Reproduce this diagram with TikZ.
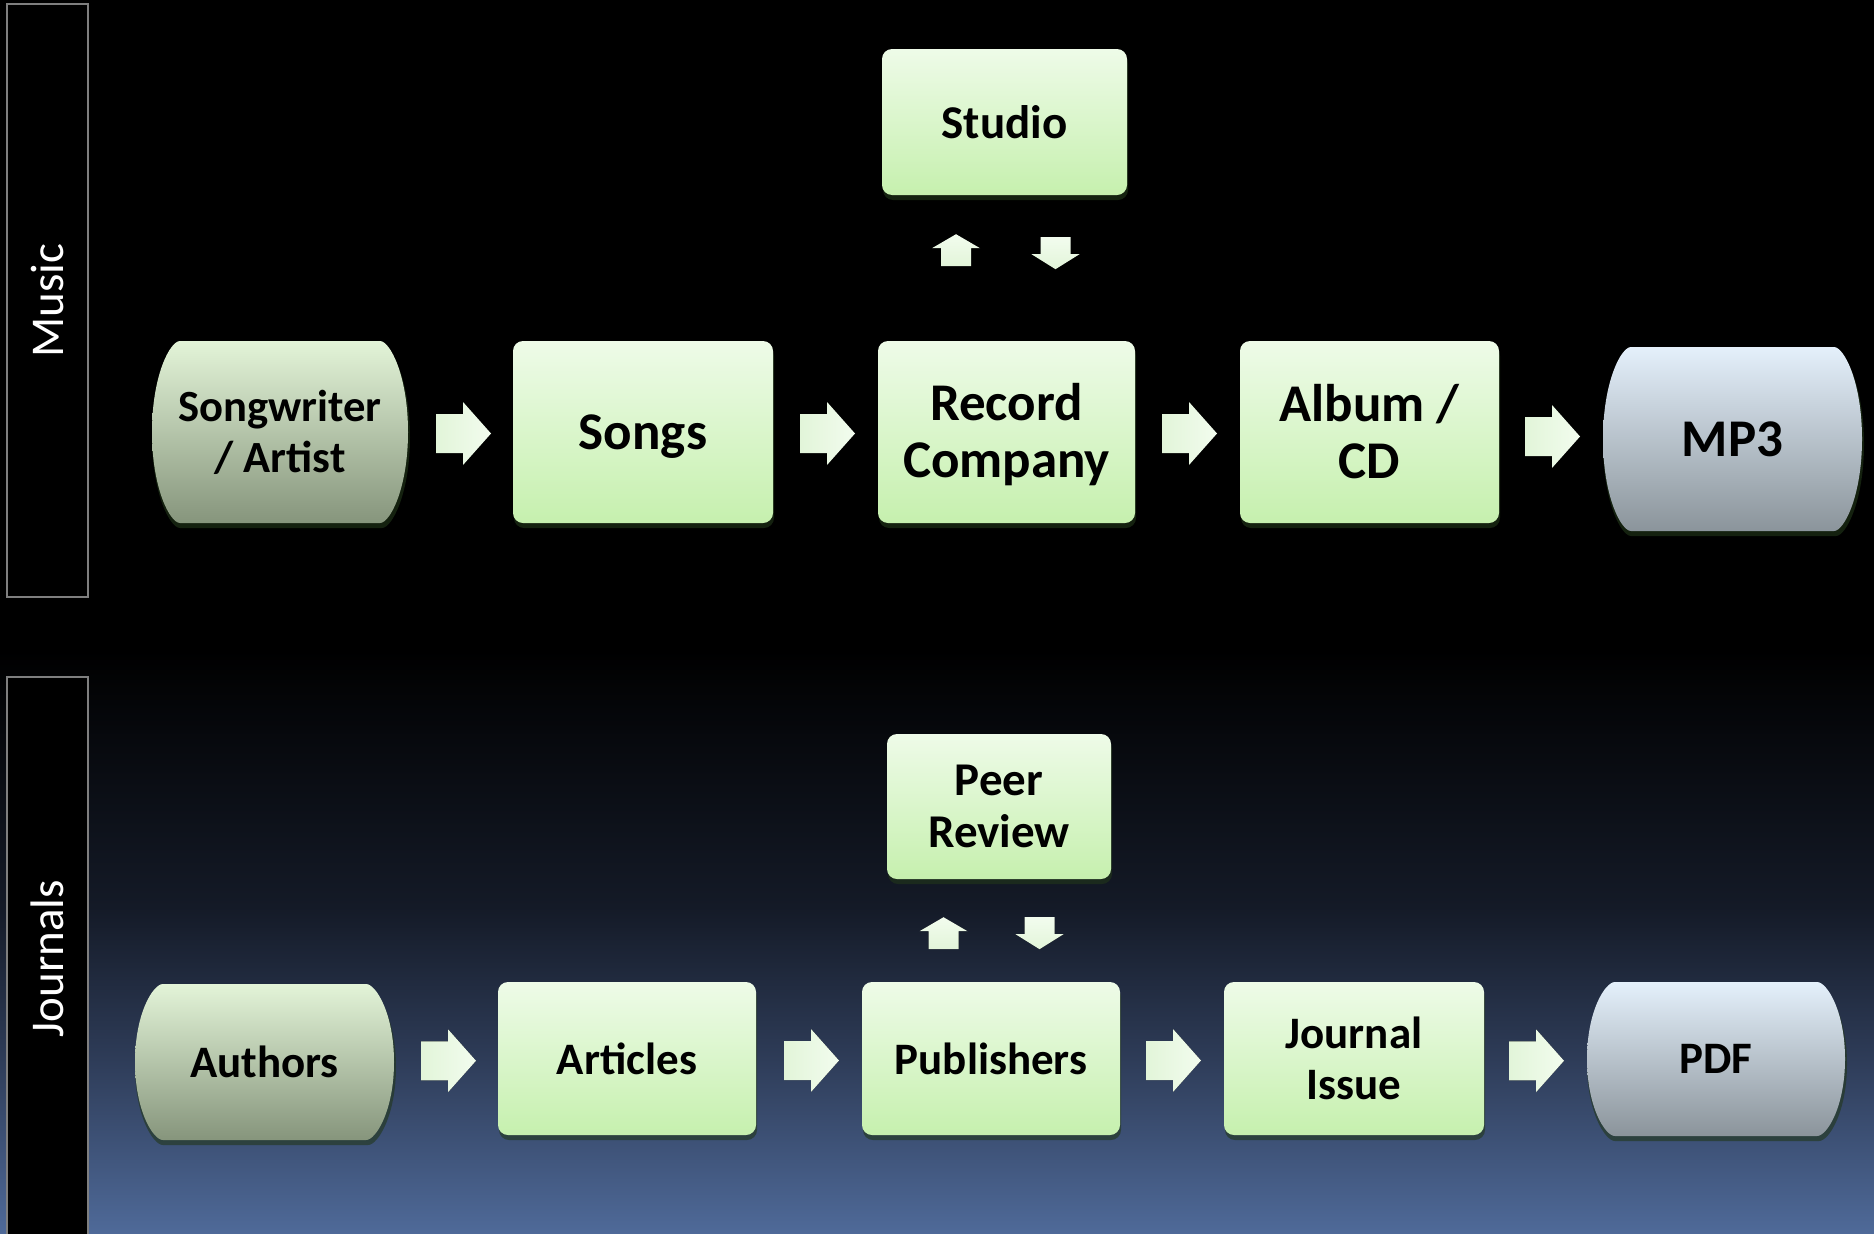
\documentclass[tikz,border=0pt]{standalone}
\usepackage{fontspec}
\setmainfont{Carlito}
\usetikzlibrary{calc}
\definecolor{boxT}{HTML}{EEFBE8}
\definecolor{boxB}{HTML}{C6F0AE}
\definecolor{termT}{HTML}{E3F4D8}
\definecolor{termB}{HTML}{86957C}
\definecolor{blueT}{HTML}{E4F0FB}
\definecolor{blueB}{HTML}{8B949B}
\definecolor{arrL}{HTML}{E2F5D9}
\definecolor{arrR}{HTML}{F2FCEE}
\definecolor{glowc}{HTML}{22371A}
\definecolor{bgA}{HTML}{4F6A99}
\definecolor{bgB}{HTML}{2E3C58}
\definecolor{bgC}{HTML}{141A27}
\definecolor{labline}{HTML}{7F7F7F}
\pgfdeclareverticalshading{bgshade}{100bp}{color(0bp)=(bgA); color(25bp)=(bgA); color(40bp)=(bgB); color(53bp)=(bgC); color(75bp)=(black); color(100bp)=(black)}
\newcommand\termshape[5]{%
  \pgfmathsetmacro\tmL{#2-#4/2}\pgfmathsetmacro\tmR{#2+#4/2}%
  \pgfmathsetmacro\tmT{#3-#5/2}\pgfmathsetmacro\tmB{#3+#5/2}%
  \pgfmathsetmacro\tmC{0.19*#5}%
  \path[#1] (\tmL+28,\tmT) -- (\tmR-28,\tmT)
    .. controls (\tmR-18,\tmT) and (\tmR,\tmT+\tmC) .. (\tmR,#3)
    .. controls (\tmR,\tmB-\tmC) and (\tmR-18,\tmB) .. (\tmR-28,\tmB)
    -- (\tmL+28,\tmB)
    .. controls (\tmL+18,\tmB) and (\tmL,\tmB-\tmC) .. (\tmL,#3)
    .. controls (\tmL,\tmT+\tmC) and (\tmL+18,\tmT) .. cycle;}
\newcommand\rarr[1]{\fill[arrfill] (#1) ++(-27.5,-19.5) -- ++(27,0) -- ++(0,-12) -- ++(28,31.5) -- ++(-28,31.5) -- ++(0,-12) -- ++(-27,0) -- cycle;}
\newcommand\uarr[1]{\fill[arrfillv] (#1) ++(0,-16) -- ++(24,14) -- ++(-9,0) -- ++(0,18) -- ++(-30,0) -- ++(0,-18) -- ++(-9,0) -- cycle;}
\newcommand\darr[1]{\fill[arrfillv] (#1) ++(0,16) -- ++(24,-15) -- ++(-9,0) -- ++(0,-17) -- ++(-30,0) -- ++(0,17) -- ++(-9,0) -- cycle;}
\newcommand\lowered[2]{\raisebox{-#1}[\height][\depth]{#2}}
\begin{document}
\begin{tikzpicture}[x=1pt,y=-1pt,
  box/.style={rectangle, rounded corners=10pt, top color=boxT, bottom color=boxB,
    align=center, text=black, inner sep=0pt,
    preaction={fill=glowc, opacity=0.6, transform canvas={shift={(1pt,-5pt)}}}},
  termtext/.style={rectangle, align=center, text=black, inner sep=0pt},
  big/.style={font=\bfseries\fontsize{53}{57}\selectfont},
  mid/.style={font=\bfseries\fontsize{45}{51}\selectfont},
  top/.style={font=\bfseries\fontsize{47}{52.5}\selectfont},
  termfill/.style={top color=termT, bottom color=termB},
  bluefill/.style={top color=blueT, bottom color=blueB},
  glowfill/.style={fill=glowc, opacity=0.6},
  arrfill/.style={left color=arrL, right color=arrR},
  arrfillv/.style={top color=arrR, bottom color=arrL},
  labbox/.style={rectangle, fill=black, draw=labline, line width=2pt, text=white,
    inner sep=0pt, rotate=90, minimum height=81pt, font=\fontsize{47}{56}\selectfont}]
\useasboundingbox (0,0) rectangle (1874,1234);
\fill[black] (0,0) rectangle (1874,1234);
\shade[shading=bgshade] (0,650) rectangle (1874,1234);

% side labels
\node[labbox, minimum width=593pt] (music) at (47.5,300.5) {Music};
\node[labbox, minimum width=563pt] (journals) at (47.5,958.5) {Journals};

% ---- Music row
\termshape{glowfill}{281}{437}{258}{182}
\termshape{termfill}{280}{432}{256}{182}
\node[termtext, font=\bfseries\fontsize{44.6}{51}\selectfont, minimum width=256pt, minimum height=182pt] (sw) at (280,432) {Songwriter\\/ Artist};
\node[box, big, minimum width=260pt, minimum height=182pt] (songs) at (643,432) {\lowered{5pt}{Songs}};
\node[box, big, minimum width=257pt, minimum height=182pt] (rec) at (1006.5,432) {\lowered{3pt}{Record}\\\lowered{3pt}{Company}};
\node[box, big, minimum width=259pt, minimum height=182pt] (album) at (1369.5,432) {Album /\\CD};
\termshape{glowfill}{1733.5}{444}{261}{184}
\termshape{bluefill}{1732.5}{439}{259}{184}
\node[termtext, big, minimum width=259pt, minimum height=184pt] (mp3) at (1732.5,439) {MP3};
\node[box, top, minimum width=245pt, minimum height=146pt] (studio) at (1004.5,122) {Studio};

\coordinate (ma1) at ($(sw.east)!0.5!(songs.west)+(3,1.5)$);
\coordinate (ma2) at ($(songs.east)!0.5!(rec.west)+(2,1.5)$);
\coordinate (ma3) at ($(rec.east)!0.5!(album.west)+(2,1.5)$);
\coordinate (ma4) at ($(album.east)!0.5!(mp3.west)+(1.5,1)$);
\rarr{ma1}\rarr{ma2}\rarr{ma3}\rarr{ma4}
\coordinate (mu) at ($(studio.south)+(-48.5,55)$);
\coordinate (md) at ($(studio.south)+(51,58)$);
\uarr{mu}\darr{md}

% ---- Journals row
\termshape{glowfill}{265.5}{1067}{261}{156}
\termshape{termfill}{264.5}{1062}{259}{156}
\node[termtext, mid, minimum width=259pt, minimum height=156pt] (authors) at (264.5,1062) {Authors};
\node[box, mid, minimum width=258pt, minimum height=153pt] (articles) at (627,1058.5) {Articles};
\node[box, mid, minimum width=258pt, minimum height=153pt] (pub) at (991,1058.5) {Publishers};
\node[box, mid, minimum width=260pt, minimum height=153pt] (issue) at (1354,1058.5) {Journal\\Issue};
\termshape{glowfill}{1717}{1064}{260}{154}
\termshape{bluefill}{1716}{1059}{258}{154}
\node[termtext, mid, minimum width=258pt, minimum height=154pt] (pdf) at (1716,1059) {PDF};
\node[box, top, minimum width=224pt, minimum height=145pt] (peer) at (999,806.5) {Peer\\Review};

\coordinate (ja1) at ($(authors.east)!0.5!(articles.west)+(2.5,0.5)$);
\coordinate (ja2) at ($(articles.east)!0.5!(pub.west)+(2.5,2)$);
\coordinate (ja3) at ($(pub.east)!0.5!(issue.west)+(1.5,2)$);
\coordinate (ja4) at ($(issue.east)!0.5!(pdf.west)+(1,2)$);
\rarr{ja1}\rarr{ja2}\rarr{ja3}\rarr{ja4}
\coordinate (ju) at ($(peer.south)+(-55.5,54)$);
\coordinate (jd) at ($(peer.south)+(40.5,54)$);
\uarr{ju}\darr{jd}
\end{tikzpicture}
\end{document}
